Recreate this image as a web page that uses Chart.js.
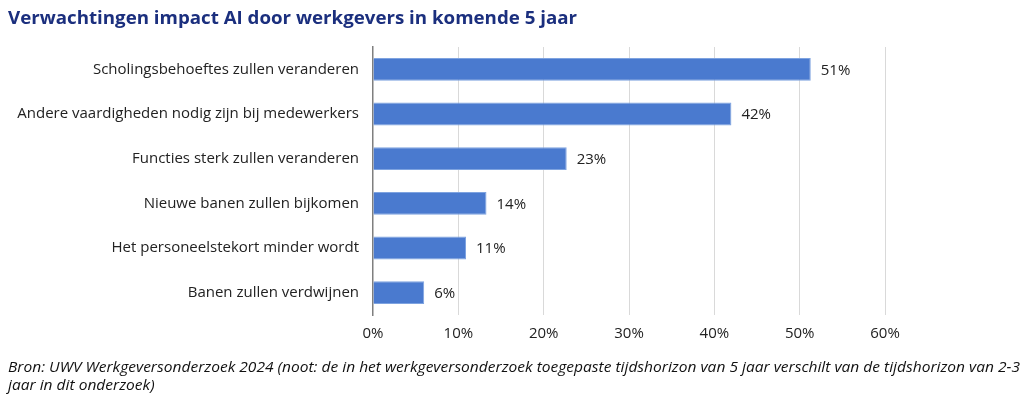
<!DOCTYPE html>
<html><head><meta charset="utf-8">
<script src="https://cdn.jsdelivr.net/npm/chart.js@4"></script>
<style>
html,body{margin:0;padding:0;background:#fff;width:1024px;height:398px;overflow:hidden;}
#wrap{position:absolute;left:0;top:0;width:1024px;height:398px;}
#title{position:absolute;left:8px;top:4px;font-family:"Open Sans",sans-serif;font-weight:700;font-size:18.5px;color:#1b2f7e;white-space:nowrap;transform-origin:0 0;}
.foot{position:absolute;left:8px;font-family:"Open Sans",sans-serif;font-style:italic;font-size:14.5px;color:#111;white-space:nowrap;transform-origin:0 0;}
#f1{top:357px;} #f2{top:375px;}
</style></head><body>
<div id="wrap"><canvas id="c" width="1024" height="398"></canvas></div>
<div id="title">Verwachtingen impact AI door werkgevers in komende 5 jaar</div>
<div class="foot" id="f1">Bron: UWV Werkgeversonderzoek 2024 (noot: de in het werkgeversonderzoek toegepaste tijdshorizon van 5 jaar verschilt van de tijdshorizon van 2-3</div>
<div class="foot" id="f2">jaar in dit onderzoek)</div>
<script>
const categories = [
  "Scholingsbehoeftes zullen veranderen",
  "Andere vaardigheden nodig zijn bij medewerkers",
  "Functies sterk zullen veranderen",
  "Nieuwe banen zullen bijkomen",
  "Het personeelstekort minder wordt",
  "Banen zullen verdwijnen"
];
const values = [51.3, 42.0, 22.7, 13.3, 10.9, 6.0];
const valueLabels = ["51%", "42%", "23%", "14%", "11%", "6%"];
const xTicks = [0, 10, 20, 30, 40, 50, 60];

function fitWidth(id, w){
  const el = document.getElementById(id);
  const r = el.getBoundingClientRect().width;
  el.style.transform = 'scaleX(' + (w / r) + ')';
}
fitWidth('title', 569);
fitWidth('f1', 1012);
document.getElementById('f2').style.transform = document.getElementById('f1').style.transform;

const labelPlugin = {
  id: 'valLabels',
  afterDatasetsDraw(chart){
    const ctx = chart.ctx;
    const meta = chart.getDatasetMeta(0);
    ctx.save();
    ctx.font = '15px "Open Sans", sans-serif';
    ctx.fillStyle = '#222222';
    ctx.textAlign = 'left';
    ctx.textBaseline = 'middle';
    meta.data.forEach((bar, i) => {
      ctx.fillText(valueLabels[i], bar.x + 10, bar.y + 1);
    });
    ctx.restore();
  }
};

new Chart(document.getElementById('c'), {
  type: 'bar',
  data: {
    labels: categories,
    datasets: [{
      data: values,
      backgroundColor: '#4a7acf',
      borderColor: '#7ea3e0',
      borderWidth: 1,
      barPercentage: 0.98,
      categoryPercentage: 0.52
    }]
  },
  options: {
    indexAxis: 'y',
    responsive: false,
    animation: false,
    devicePixelRatio: 1,
    layout: { padding: { top: 47, right: 139, left: 0, bottom: 0 } },
    plugins: { legend: { display: false }, tooltip: { enabled: false } },
    scales: {
      x: {
        min: 0, max: 60,
        afterBuildTicks(scale){ scale.ticks = xTicks.map(v => ({ value: v })); },
        afterFit(scale){ scale.height = 83; },
        grid: { color: (c) => c.index === 0 ? 'rgba(0,0,0,0)' : '#d9d9d9', lineWidth: 1, drawTicks: false },
        border: { display: false },
        ticks: {
          padding: 10,
          color: '#222222',
          font: { family: '"Open Sans", sans-serif', size: 15 },
          callback: (v) => v + '%'
        }
      },
      y: {
        afterFit(scale){ scale.width = 373; },
        grid: { display: false, drawTicks: false },
        border: { display: true, color: '#7f7f7f', width: 1.5 },
        ticks: {
          padding: 14,
          color: '#222222',
          font: { family: '"Open Sans", sans-serif', size: 15 }
        }
      }
    }
  },
  plugins: [labelPlugin]
});
</script>
</body></html>
